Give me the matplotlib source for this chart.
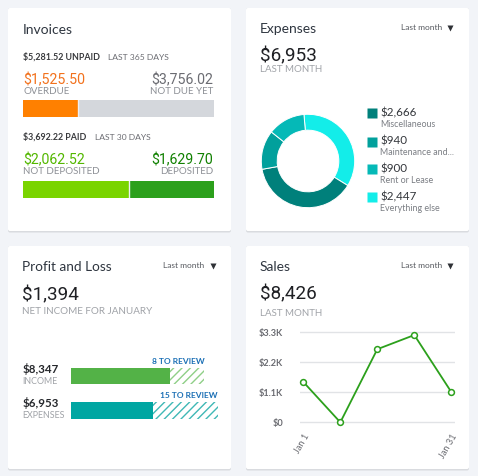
#!/usr/bin/env python3
import matplotlib
matplotlib.use('Agg')
import matplotlib.pyplot as plt
from matplotlib.patches import FancyBboxPatch

W, H = 478, 476

invoice_unpaid = [1525.50, 3756.02]
invoice_paid = [2062.52, 1629.70]

expense_values = [2666, 940, 900, 2447]
expense_labels = ['Miscellaneous', 'Maintenance and...', 'Rent or Lease', 'Everything else']
expense_amounts = ['$2,666', '$940', '$900', '$2,447']
expense_colors = ['#00807B', '#01A09C', '#05B9B7', '#13EDE9']

pl_names = ['INCOME', 'EXPENSES']
pl_amounts = ['$8,347', '$6,953']
pl_values = [8347, 6953]
pl_review = [2830, 5440]
pl_review_labels = ['8 TO REVIEW', '15 TO REVIEW']
pl_colors = ['#53B247', '#00A6A2']
pl_hatch_colors = ['#8FCF87', '#3FB8B6']

sales_values = [1480, 0, 2680, 3200, 1110]
sales_yticks = [0, 1100, 2200, 3300]
sales_ylabels = ['$0', '$1.1K', '$2.2K', '$3.3K']

plt.rcParams['font.family'] = ['Lato', 'DejaVu Sans']
plt.rcParams['hatch.linewidth'] = 1.0

fig = plt.figure(figsize=(W / 100, H / 100), dpi=100, facecolor='#F2F4F8')
bg = fig.add_axes([0, 0, 1, 1])
bg.set_xlim(0, W)
bg.set_ylim(H, 0)
bg.axis('off')


def box(x0, y0, x1, y1):
    # pixel box, y from the top, to a new axes
    a = fig.add_axes([x0 / W, 1 - y1 / H, (x1 - x0) / W, (y1 - y0) / H])
    a.patch.set_alpha(0)
    return a


def txt(x, y, s, size=7, color='#8D9096', ha='left', weight='normal', family=None):
    bg.text(x, y, s, fontsize=size, color=color, ha=ha, va='center', weight=weight,
            family=family if family else ['Lato', 'DejaVu Sans'], zorder=5)


def stacked(x0, y0, x1, y1, vals, colors):
    a = box(x0, y0, x1, y1)
    a.barh([0], [vals[0]], height=1, color=colors[0], edgecolor='none')
    a.barh([0], [vals[1]], left=[vals[0]], height=1, color=colors[1], edgecolor='white', linewidth=0)
    a.axvline(vals[0], color='#EEF0F2', lw=1)
    a.set_xlim(0, sum(vals))
    a.set_ylim(-0.5, 0.5)
    a.axis('off')


def menu(x, tri_x, y):
    txt(x, y, 'Last month', 6, '#55585E')
    bg.plot([tri_x], [y], marker='v', ms=4.2, color='#2F3136', mec='none', zorder=5)


# cards
for x0, y0 in [(8, 8), (246, 8), (8, 246), (246, 246)]:
    bg.add_patch(FancyBboxPatch((x0 + 2, y0 + 2), 219, 220.5, boxstyle='round,pad=2,rounding_size=2',
                                fc='#D9DBDF', ec='none', zorder=1))
    bg.add_patch(FancyBboxPatch((x0 + 2, y0 + 2), 219, 219, boxstyle='round,pad=2,rounding_size=2',
                                fc='white', ec='none', zorder=2))

NUM = ['Roboto', 'DejaVu Sans']

# Invoices
txt(22.5, 30, 'Invoices', 10, '#2F3640')
txt(23.5, 57, '$5,281.52 UNPAID', 6.4, '#393A3D', weight='bold')
txt(108, 57, 'LAST 365 DAYS', 6.1, '#6B6C72')
txt(23.5, 80, '$1,525.50', 10.2, '#F2711C', family=NUM)
txt(23.5, 92, 'OVERDUE', 7, '#8D9096')
txt(213.5, 80, '$3,756.02', 10.2, '#6B6C72', ha='right', family=NUM)
txt(213.5, 92, 'NOT DUE YET', 7, '#8D9096', ha='right')
stacked(22.5, 100, 213.5, 116.5, invoice_unpaid, ['#FF8000', '#D4D7DC'])
txt(23.5, 137, '$3,692.22 PAID', 6.4, '#393A3D', weight='bold')
txt(95.5, 137, 'LAST 30 DAYS', 6.1, '#6B6C72')
txt(23.5, 160, '$2,062.52', 10.2, '#53B700', family=NUM)
txt(23.5, 172, 'NOT DEPOSITED', 7, '#8D9096')
txt(213.5, 160, '$1,629.70', 10.2, '#108000', ha='right', family=NUM)
txt(213.5, 172, 'DEPOSITED', 7, '#8D9096', ha='right')
stacked(22.5, 181, 213.5, 197.5, invoice_paid, ['#7AD400', '#2CA01C'])

# Expenses
txt(260, 29, 'Expenses', 10, '#2F3640')
menu(401.5, 450, 28)
txt(260, 56, '$6,953', 13.6, '#1F2024', family=NUM)
txt(260, 70, 'LAST MONTH', 7, '#A0A3A8')

R = 46.7
cx, cy = 308, 161
a = box(cx - R, cy - R, cx + R, cy + R)
order = [3, 0, 1, 2]
a.pie([expense_values[i] for i in order], colors=[expense_colors[i] for i in order],
      startangle=95, counterclock=False, radius=1,
      wedgeprops=dict(width=0.34, edgecolor='white', linewidth=0.7))
a.set_xlim(-1, 1)
a.set_ylim(-1, 1)

for y, amt, lab, col in zip([113, 141.5, 169, 197], expense_amounts, expense_labels, expense_colors):
    bg.plot([372.5], [y], marker='s', ms=6.6, color=col, mec='none', zorder=5)
    txt(380.5, y, amt, 8.4, '#33363B')
    txt(380.5, y + 11.3, lab, 6.4, '#7B7E84')

# Profit and Loss
txt(22.5, 267, 'Profit and Loss', 9.8, '#2F3640')
menu(163.5, 212.7, 265.7)
txt(22.5, 295, '$1,394', 13.6, '#1F2024', family=NUM)
txt(22.5, 311.7, 'NET INCOME FOR JANUARY', 7.1, '#A0A3A8')

# one unit on y is the 34.5 px between the two rows
a = box(71, 368, 218, 419)
a.barh([1, 0], pl_values, height=0.48, color=pl_colors, edgecolor='none')
for i, yy in enumerate([1, 0]):
    a.barh([yy], [pl_review[i]], left=[pl_values[i]], height=0.48, color='white',
           edgecolor=pl_hatch_colors[i], hatch='////', linewidth=0)
a.set_xlim(0, 147 / (99 / 8347))
a.set_ylim(-0.246, 1.232)
a.axis('off')

for y, name, amt in zip([369, 403], pl_names, pl_amounts):
    txt(22.5, y, amt, 8.3, '#26282C', weight='bold')
    txt(22.5, y + 12, name, 6.4, '#A0A3A8')
txt(204.5, 361, pl_review_labels[0], 6, '#1A6FB5', ha='right', weight='bold')
txt(218, 395.7, pl_review_labels[1], 6, '#1A6FB5', ha='right', weight='bold')

# Sales
txt(260, 266.7, 'Sales', 10, '#2F3640')
menu(401.5, 450, 265.7)
txt(260, 294, '$8,426', 13.6, '#1F2024', family=NUM)
txt(260, 313, 'LAST MONTH', 7, '#A0A3A8')

a = box(300, 322.3, 455, 432.3)
xs = list(range(len(sales_values)))
a.plot(xs, sales_values, color='#2CA01C', lw=1.3, marker='o', ms=4.2, mfc='white',
       mec='#2CA01C', mew=1.1, zorder=3, clip_on=False)
a.set_xlim(-0.09, 4.1)
a.set_ylim(-10 / 90 * 3300, 100 / 90 * 3300)
a.set_yticks(sales_yticks)
a.set_yticklabels(sales_ylabels, fontsize=6.6, color='#6B6C72', weight='bold')
a.set_xticks([0, 4])
a.set_xticklabels(['Jan 1', 'Jan 31'], fontsize=6.6, color='#6B6C72', rotation=60, ha='right',
                  rotation_mode='anchor')
a.tick_params(axis='y', length=0, pad=12)
a.tick_params(axis='x', length=0, pad=0)
a.grid(axis='y', color='#E1E3E6', lw=1)
a.set_axisbelow(True)
for s in a.spines.values():
    s.set_visible(False)

fig.savefig('out.png', dpi=100, facecolor=fig.get_facecolor())
